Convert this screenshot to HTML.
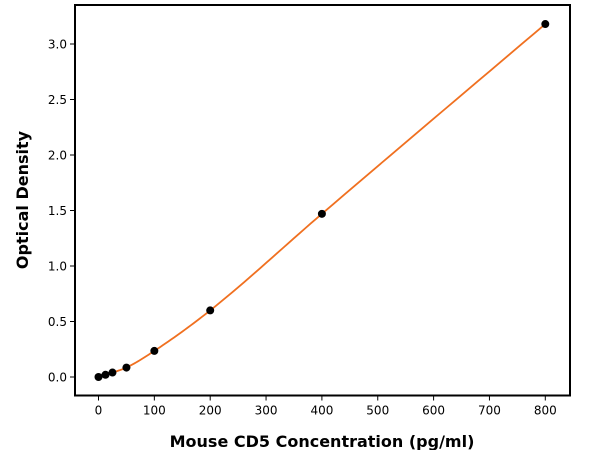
<!DOCTYPE html>
<html><head><meta charset="utf-8"><style>
body{margin:0;background:#fff;width:600px;height:450px;overflow:hidden}
svg text{font-family:"DejaVu Sans","Liberation Sans",sans-serif}
</style></head><body>
<svg id="chart" width="600" height="450" xmlns="http://www.w3.org/2000/svg"></svg>
<script>
const concentrations=[0,12.5,25,50,100,200,400,800];
const odValues=[0,0.02,0.04,0.085,0.235,0.6,1.47,3.18];
const xTicks=[0,100,200,300,400,500,600,700,800];
const yTicks=[0.0,0.5,1.0,1.5,2.0,2.5,3.0];
const xLabel='Mouse CD5 Concentration (pg/ml)';
const yLabel='Optical Density';

const L=75,R=570,T=5,B=395.5;
const xs=v=>98.5+v*0.5585;
const ys=v=>377-v*111;
const NS='http://www.w3.org/2000/svg';
const svg=document.getElementById('chart');
function mk(t,a,p){const e=document.createElementNS(NS,t);for(const k in a)e.setAttribute(k,a[k]);(p||svg).appendChild(e);return e;}

// curve: monotone cubic (Fritsch-Carlson) through data
const n=concentrations.length,d=[],m=[];
for(let i=0;i<n-1;i++)d.push((odValues[i+1]-odValues[i])/(concentrations[i+1]-concentrations[i]));
m[0]=d[0];m[n-1]=d[n-2];
for(let i=1;i<n-1;i++)m[i]=d[i-1]*d[i]<=0?0:(d[i-1]+d[i])/2;
let path='';
for(let i=0;i<n-1;i++){
  const x0=concentrations[i],x1=concentrations[i+1],h=x1-x0;
  for(let k=0;k<=20;k++){
    const t=k/20,x=x0+t*h;
    const h00=2*t*t*t-3*t*t+1,h10=t*t*t-2*t*t+t,h01=-2*t*t*t+3*t*t,h11=t*t*t-t*t;
    const y=h00*odValues[i]+h10*h*m[i]+h01*odValues[i+1]+h11*h*m[i+1];
    path+=(path?'L':'M')+xs(x).toFixed(2)+','+ys(y).toFixed(2);
  }
}
const curve=mk('path',{d:path,fill:'none',stroke:'#f07020','stroke-width':1.8});



concentrations.forEach((c,i)=>{
  const p=mk('circle',{cx:xs(c),cy:ys(odValues[i]),r:4,fill:'#000'});
  
  
});

const frame=mk('rect',{x:L,y:T,width:R-L,height:B-T,fill:'none',stroke:'#000','stroke-width':2});



xTicks.forEach(v=>{
  const tk=mk('line',{x1:xs(v),x2:xs(v),y1:B,y2:B+5,stroke:'#000','stroke-width':1});
  
  
  const t=mk('text',{x:xs(v),y:B+19,'text-anchor':'middle','font-size':12});
  t.textContent=v;
  
  
});
yTicks.forEach(v=>{
  const tk=mk('line',{x1:L-5,x2:L,y1:ys(v),y2:ys(v),stroke:'#000','stroke-width':1});
  
  
  const t=mk('text',{x:L-8,y:ys(v)+4.5,'text-anchor':'end','font-size':12});
  t.textContent=v.toFixed(1);
  
  
});
const xt=mk('text',{x:322,y:447,'text-anchor':'middle','font-size':16,'font-weight':'bold'});
xt.textContent=xLabel;


const yt=mk('text',{x:0,y:0,'text-anchor':'middle','font-size':16,'font-weight':'bold',transform:'translate(28,200) rotate(-90)'});
yt.textContent=yLabel;


</script>
</body></html>
